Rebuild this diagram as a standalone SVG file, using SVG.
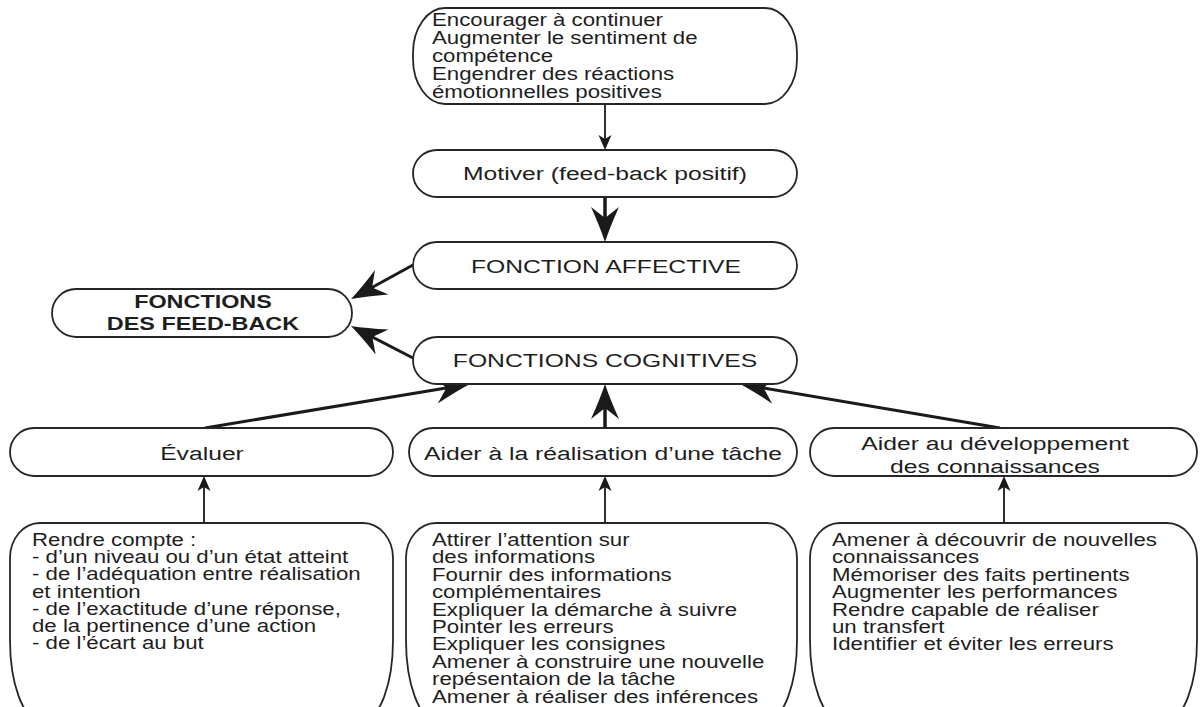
<svg xmlns="http://www.w3.org/2000/svg" width="1200" height="707" viewBox="0 0 1200 707">
<style>
.box{fill:#fff;stroke:#262626;stroke-width:1.8}
.t{font-family:"Liberation Sans",Arial,sans-serif;font-size:17.5px;fill:#1e1e1e}
.h{font-family:"Liberation Sans",Arial,sans-serif;font-size:19px;fill:#1e1e1e;text-anchor:middle}
.b{font-family:"Liberation Sans",Arial,sans-serif;font-size:18px;font-weight:bold;fill:#1e1e1e;text-anchor:middle}
.thin{fill:none;stroke:#1a1a1a;stroke-width:1.8;marker-end:url(#sm)}
.thick{fill:none;stroke:#1a1a1a;stroke-width:3.5;marker-end:url(#bg)}
</style>
<defs>
<marker id="sm" markerUnits="userSpaceOnUse" orient="auto" refX="0" refY="0" overflow="visible">
<path d="M6,0 L-9,-6.5 L-5,0 L-9,6.5 Z" fill="#1a1a1a"/>
</marker>
<marker id="bg" markerUnits="userSpaceOnUse" orient="auto" refX="0" refY="0" overflow="visible">
<path d="M15,0 Q0,-5 -20,-14 L-9,0 L-20,14 Q0,5 15,0 Z" fill="#1a1a1a"/>
</marker>
</defs>

<g id="connectors">
<path class="thin" d="M605,104 L605,144"/>
<path class="thick" d="M605,197 L605,227"/>
<path class="thick" style="stroke-width:3" d="M413,265 L364.2,291.8"/>
<path class="thick" style="stroke-width:3" d="M413,358 L364.3,332.9"/>
<path class="thick" style="stroke-width:3" d="M205,428 L455.2,386.5"/>
<path class="thick" d="M605,428 L605,399"/>
<path class="thick" style="stroke-width:3" d="M1000,428 L754.8,386.5"/>
<path class="thin" d="M204,523 L204,482"/>
<path class="thin" d="M605,523 L605,482"/>
<path class="thin" d="M1004,523 L1004,482"/>
</g>

<g id="n-encourager">
<rect class="box" x="413" y="8" width="384" height="96" rx="32" ry="45"/>
<g transform="translate(432,0) scale(1.27,1)">
<text class="t" y="26"><tspan x="0">Encourager à continuer</tspan><tspan x="0" dy="18">Augmenter le sentiment de</tspan><tspan x="0" dy="18">compétence</tspan><tspan x="0" dy="18">Engendrer des réactions</tspan><tspan x="0" dy="18">émotionnelles positives</tspan></text>
</g>
</g>

<g id="n-motiver">
<rect class="box" x="413" y="150" width="384" height="47" rx="24"/>
<g transform="translate(605,0) scale(1.3,1)"><text class="h" x="0" y="180">Motiver (feed-back positif)</text></g>
</g>

<g id="n-affective">
<rect class="box" x="413" y="242" width="384" height="47" rx="24"/>
<g transform="translate(606,0) scale(1.3,1)"><text class="h" x="0" y="273">FONCTION AFFECTIVE</text></g>
</g>

<g id="n-feedback">
<rect class="box" x="52" y="289" width="300" height="48" rx="24"/>
<g transform="translate(203,0) scale(1.3,1)"><text class="b" y="308"><tspan x="0">FONCTIONS</tspan><tspan x="0" dy="22">DES FEED-BACK</tspan></text></g>
</g>

<g id="n-cognitives">
<rect class="box" x="413" y="337" width="384" height="47" rx="24"/>
<g transform="translate(605,0) scale(1.3,1)"><text class="h" x="0" y="367">FONCTIONS COGNITIVES</text></g>
</g>

<g id="n-evaluer">
<rect class="box" x="10" y="428" width="383" height="48" rx="24"/>
<g transform="translate(202,0) scale(1.3,1)"><text class="h" x="0" y="460">Évaluer</text></g>
</g>

<g id="n-realisation">
<rect class="box" x="409" y="428" width="388" height="48" rx="24"/>
<g transform="translate(603,0) scale(1.3,1)"><text class="h" x="0" y="460">Aider à la réalisation d’une tâche</text></g>
</g>

<g id="n-developpement">
<rect class="box" x="810" y="428" width="387" height="48" rx="24"/>
<g transform="translate(995,0) scale(1.3,1)"><text class="h" y="450"><tspan x="0">Aider au développement</tspan><tspan x="0" dy="23">des connaissances</tspan></text></g>
</g>

<g id="n-rendre-compte">
<path class="box" d="M40,523 H363 A30,35 0 0 1 393,558 V640 A30,80 0 0 1 363,720 H40 A30,80 0 0 1 10,640 V558 A30,35 0 0 1 40,523 Z"/>
<g transform="translate(32,0) scale(1.27,1)">
<text class="t" y="546"><tspan x="0">Rendre compte :</tspan><tspan x="0" dy="17.2">- d’un niveau ou d’un état atteint</tspan><tspan x="0" dy="17.2">- de l’adéquation entre réalisation</tspan><tspan x="0" dy="17.2">et intention</tspan><tspan x="0" dy="17.2">- de l’exactitude d’une réponse,</tspan><tspan x="0" dy="17.2">de la pertinence d’une action</tspan><tspan x="0" dy="17.2">- de l’écart au but</tspan></text>
</g>
</g>

<g id="n-attirer">
<path class="box" d="M436,523 H767 A30,35 0 0 1 797,558 V640 A30,80 0 0 1 767,720 H436 A30,80 0 0 1 406,640 V558 A30,35 0 0 1 436,523 Z"/>
<g transform="translate(432,0) scale(1.27,1)">
<text class="t" y="546"><tspan x="0">Attirer l’attention sur</tspan><tspan x="0" dy="17.4">des informations</tspan><tspan x="0" dy="17.4">Fournir des informations</tspan><tspan x="0" dy="17.4">complémentaires</tspan><tspan x="0" dy="17.4">Expliquer la démarche à suivre</tspan><tspan x="0" dy="17.4">Pointer les erreurs</tspan><tspan x="0" dy="17.4">Expliquer les consignes</tspan><tspan x="0" dy="17.4">Amener à construire une nouvelle</tspan><tspan x="0" dy="17.4">repésentaion de la tâche</tspan><tspan x="0" dy="17.4">Amener à réaliser des inférences</tspan></text>
</g>
</g>

<g id="n-amener">
<path class="box" d="M840,523 H1167 A30,35 0 0 1 1197,558 V640 A30,80 0 0 1 1167,720 H840 A30,80 0 0 1 810,640 V558 A30,35 0 0 1 840,523 Z"/>
<g transform="translate(832,0) scale(1.27,1)">
<text class="t" y="546"><tspan x="0">Amener à découvrir de nouvelles</tspan><tspan x="0" dy="17.4">connaissances</tspan><tspan x="0" dy="17.4">Mémoriser des faits pertinents</tspan><tspan x="0" dy="17.4">Augmenter les performances</tspan><tspan x="0" dy="17.4">Rendre capable de réaliser</tspan><tspan x="0" dy="17.4">un transfert</tspan><tspan x="0" dy="17.4">Identifier et éviter les erreurs</tspan></text>
</g>
</g>
</svg>
